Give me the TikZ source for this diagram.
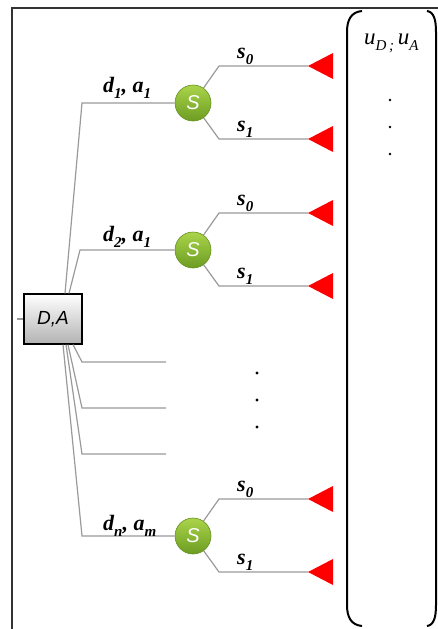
\documentclass[tikz,border=0pt]{standalone}
\usepackage{fontspec}
\newfontfamily\boxfont{Liberation Sans}
\newfontfamily\lblfont{Liberation Serif}
\usetikzlibrary{calc}
\definecolor{branch}{HTML}{9A9A9A}
\definecolor{frame}{HTML}{333333}
\definecolor{chancetop}{HTML}{AAD44A}
\definecolor{chancebot}{HTML}{6C9C22}
\definecolor{chancerim}{HTML}{65901E}
% lowered, smaller index text
\newcommand{\idx}[1]{\raisebox{-0.28em}{\fontsize{15}{15}\selectfont #1}}
\begin{document}
\begin{tikzpicture}[x=1pt,y=-1pt,
  edge/.style={draw=branch,line width=1.2pt},
  decision/.style={rectangle,draw=black,line width=1.2pt,minimum width=58pt,
    minimum height=50pt,top color=white,bottom color=black!30,inner sep=0pt,
    font=\boxfont\itshape\fontsize{19}{21}\selectfont},
  chancenode/.style={circle,minimum size=36pt,inner sep=0pt,
    top color=chancetop,bottom color=chancebot,
    draw=chancerim,line width=0.6pt,text=white,
    font=\boxfont\itshape\fontsize{20}{22}\selectfont},
  payoff/.style={fill=red},
  lbl/.style={inner sep=0pt,anchor=base west,
    font=\lblfont\bfseries\itshape\fontsize{22}{24}\selectfont},
  dotmark/.style={circle,fill=black,inner sep=0pt,minimum size=3.2pt},
  bracket/.style={draw=black,line width=2pt}]
\useasboundingbox (0,0) rectangle (438,629);

% outer frame
\draw[frame,line width=1.5pt] (438,8) -- (12,8) -- (12,629);

% decision node
\node[decision] (da) at (53,319) {D,A};
\coordinate (stub) at (17,319);
\draw[edge] (stub) -- (da.west);

% chance nodes
\node[chancenode] (c1) at (193,103) {S};
\node[chancenode] (c2) at (193,250) {S};
\node[chancenode] (c3) at (193,536) {S};

% decision branches
\coordinate (k1) at (82,103);
\coordinate (k2) at (80,250);
\coordinate (k3) at (82,362);
\coordinate (k4) at (82,408);
\coordinate (k5) at (82,454);
\coordinate (k6) at (82,536);
\coordinate (e3) at (166,362);
\coordinate (e4) at (166,408);
\coordinate (e5) at (166,454);

\draw[edge] ([xshift=12pt]da.north) -- (k1) -- (c1.west);
\draw[edge] ([xshift=16pt]da.north) -- (k2) -- (c2.west);
\draw[edge] ([xshift=20pt]da.south) -- (k3) -- (e3);
\draw[edge] ([xshift=15pt]da.south) -- (k4) -- (e4);
\draw[edge] ([xshift=13pt]da.south) -- (k5) -- (e5);
\draw[edge] ([xshift=10pt]da.south) -- (k6) -- (c3.west);

\node[lbl] (l1) at (103,92) {d\idx{1}, a\idx{1}};
\node[lbl] (l2) at (103,241) {d\idx{2}, a\idx{1}};
\node[lbl] (l3) at (103,530) {d\idx{n}, a\idx{m}};

% chance branches and terminal payoffs
\foreach \c/\y in {c1/103,c2/250,c3/536}{
  \coordinate (\c u) at (219,\y-37);
  \coordinate (\c d) at (219,\y+36);
  \coordinate (\c tu) at (308,\y-37);
  \coordinate (\c td) at (308,\y+36);
  \draw[edge] (\c) -- (\c u) -- (\c tu);
  \draw[edge] (\c) -- (\c d) -- (\c td);
  \fill[payoff] (\c tu) -- ++(25,-13) -- ++(0,26) -- cycle;
  \fill[payoff] (\c td) -- ++(25,-13) -- ++(0,26) -- cycle;
  \node[lbl] at (237,\y-45) {s\idx{0}};
  \node[lbl] at (237,\y+28) {s\idx{1}};
}

% omitted branches
\node[dotmark] (m1) at (257,373) {};
\node[dotmark] (m2) at (257,400) {};
\node[dotmark] (m3) at (257,427) {};

% payoff vector
\draw[bracket] (362,11) .. controls (351,12) and (347,20) .. (347,32)
  -- (347,605) .. controls (347,617) and (351,625) .. (362,626);
\draw[bracket] (427,11) .. controls (434,12) and (436,20) .. (436,32)
  -- (436,605) .. controls (436,617) and (434,625) .. (427,626);
\node[inner sep=0pt,anchor=base west,font=\lblfont\itshape\fontsize{23}{25}\selectfont]
  (u) at (364,44) {u\idx{D\,;}\,u\idx{A}};
\node[dotmark,minimum size=2.6pt] (p1) at (390,100) {};
\node[dotmark,minimum size=2.6pt] (p2) at (390,127) {};
\node[dotmark,minimum size=2.6pt] (p3) at (390,154) {};
\end{tikzpicture}
\end{document}
